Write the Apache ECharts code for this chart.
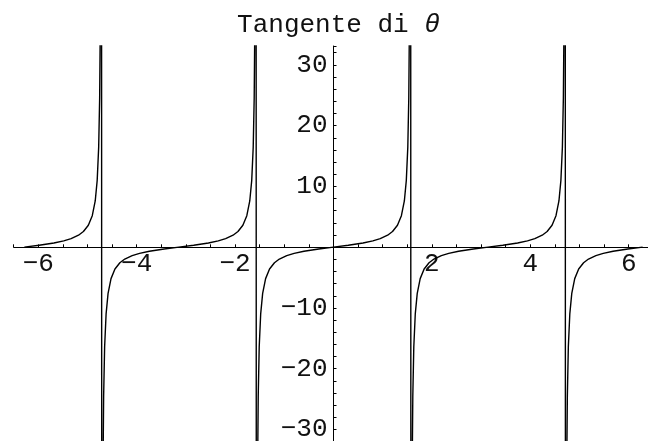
<!DOCTYPE html>
<html>
<head>
<meta charset="utf-8">
<script src="https://cdn.jsdelivr.net/npm/echarts@6/dist/echarts.min.js"></script>
<style>
  html, body { margin: 0; padding: 0; background: #fff; }
  #chart { width: 648px; height: 441px; }
</style>
</head>
<body>
<div id="chart"></div>
<script>
// values, branch by branch (theta, tan theta)
const branch1Theta = [-6.283, -5.983, -5.683, -5.483, -5.333, -5.183, -5.083, -4.983, -4.903, -4.843, -4.803, -4.773, -4.753, -4.738, -4.728, -4.718];
const branch1Tan = [0, 0.31, 0.68, 1.03, 1.40, 1.96, 2.57, 3.60, 5.18, 7.60, 10.99, 16.42, 24.50, 38.76, 63.3, 172.4];

const branch2Theta = [-4.707, -4.697, -4.687, -4.672, -4.652, -4.622, -4.582, -4.522, -4.442, -4.342, -4.242, -4.092, -3.942, -3.742, -3.442, -3.142,
  -2.842, -2.542, -2.342, -2.192, -2.042, -1.942, -1.842, -1.762, -1.702, -1.662, -1.632, -1.612, -1.597, -1.587, -1.577];
const branch2Tan = [-172.4, -63.3, -38.76, -24.50, -16.42, -10.99, -7.60, -5.18, -3.60, -2.57, -1.96, -1.40, -1.03, -0.68, -0.31, 0,
  0.31, 0.68, 1.03, 1.40, 1.96, 2.57, 3.60, 5.18, 7.60, 10.99, 16.42, 24.50, 38.76, 63.3, 172.4];

const branch3Theta = [-1.565, -1.555, -1.545, -1.530, -1.510, -1.480, -1.440, -1.380, -1.300, -1.200, -1.100, -0.950, -0.800, -0.600, -0.300, 0,
  0.300, 0.600, 0.800, 0.950, 1.100, 1.200, 1.300, 1.380, 1.440, 1.480, 1.510, 1.530, 1.545, 1.555, 1.565];
const branch3Tan = [-172.4, -63.3, -38.76, -24.50, -16.42, -10.99, -7.60, -5.18, -3.60, -2.57, -1.96, -1.40, -1.03, -0.68, -0.31, 0,
  0.31, 0.68, 1.03, 1.40, 1.96, 2.57, 3.60, 5.18, 7.60, 10.99, 16.42, 24.50, 38.76, 63.3, 172.4];

const branch4Theta = [1.577, 1.587, 1.597, 1.612, 1.632, 1.662, 1.702, 1.762, 1.842, 1.942, 2.042, 2.192, 2.342, 2.542, 2.842, 3.142,
  3.442, 3.742, 3.942, 4.092, 4.242, 4.342, 4.442, 4.522, 4.582, 4.622, 4.652, 4.672, 4.687, 4.697, 4.707];
const branch4Tan = [-172.4, -63.3, -38.76, -24.50, -16.42, -10.99, -7.60, -5.18, -3.60, -2.57, -1.96, -1.40, -1.03, -0.68, -0.31, 0,
  0.31, 0.68, 1.03, 1.40, 1.96, 2.57, 3.60, 5.18, 7.60, 10.99, 16.42, 24.50, 38.76, 63.3, 172.4];

const branch5Theta = [4.718, 4.728, 4.738, 4.753, 4.773, 4.803, 4.843, 4.903, 4.983, 5.083, 5.183, 5.333, 5.483, 5.683, 5.983, 6.283];
const branch5Tan = [-172.4, -63.3, -38.76, -24.50, -16.42, -10.99, -7.60, -5.18, -3.60, -2.57, -1.96, -1.40, -1.03, -0.68, -0.31, 0];

const titleWords = 'Tangente di ';
const titleSymbol = '\u03B8';

// one polyline, so the jumps draw the vertical lines at the asymptotes
const thetas = [].concat(branch1Theta, branch2Theta, branch3Theta, branch4Theta, branch5Theta);
const tans = [].concat(branch1Tan, branch2Tan, branch3Tan, branch4Tan, branch5Tan);
const points = thetas.map((t, i) => [t, tans[i]]);

const FONT = '"Liberation Mono", "DejaVu Sans Mono", monospace';
const X_MIN = -6.5, X_MAX = 6.5;
const Y_MIN = -32, Y_MAX = 33.1;

// plot box; the axes cross at the origin, so the axis grids share its edges
const PLOT = { left: 13.7, width: 639.6, top: 46, height: 395.6 };
const ORIGIN_X = 333.5, ORIGIN_Y = 247.3;

function tickLabel(v, step) {
  if (Math.abs(v) < 1e-9) return '';
  const r = Math.abs(v % step);
  if (r > 1e-6 && Math.abs(r - step) > 1e-6) return '';
  const n = Math.round(v);
  return n < 0 ? '\u2212' + (-n) : String(n);
}

const tickStyle = { show: true, inside: true, length: 3, lineStyle: { color: '#000', width: 1 } };
const lineStyle = { show: true, onZero: false, lineStyle: { color: '#000', width: 1 } };
const labelStyle = { fontFamily: FONT, fontSize: 26, color: '#111' };

const chart = echarts.init(document.getElementById('chart'), null, { renderer: 'canvas', width: 648, height: 441 });

chart.setOption({
  animation: false,
  backgroundColor: '#fff',
  title: {
    text: '{w|' + titleWords + '}{s|' + titleSymbol + '}',
    left: ORIGIN_X,
    top: 7,
    textAlign: 'center',
    textStyle: {
      fontFamily: FONT, fontSize: 26, fontWeight: 'normal', color: '#111',
      rich: {
        w: { fontFamily: FONT, fontSize: 26, color: '#111' },
        s: { fontFamily: FONT, fontSize: 26, fontStyle: 'italic', color: '#111' }
      }
    }
  },
  grid: [
    // data
    Object.assign({ outerBoundsMode: 'none', containLabel: false }, PLOT),
    // x axis sits on the bottom edge of this one (y = 0)
    { outerBoundsMode: 'none', containLabel: false, left: PLOT.left, width: PLOT.width, top: PLOT.top, height: ORIGIN_Y - PLOT.top },
    // y axis sits on the left edge of this one (x = 0)
    { outerBoundsMode: 'none', containLabel: false, left: ORIGIN_X, width: 300, top: PLOT.top, height: PLOT.height }
  ],
  xAxis: [
    { gridIndex: 0, type: 'value', min: X_MIN, max: X_MAX, show: false },
    {
      gridIndex: 1, type: 'value', position: 'bottom', min: X_MIN, max: X_MAX, interval: 0.5,
      axisLine: lineStyle,
      axisTick: tickStyle,
      axisLabel: Object.assign({ margin: 4, showMinLabel: true, showMaxLabel: true, formatter: v => tickLabel(v, 2) }, labelStyle),
      splitLine: { show: false }
    },
    { gridIndex: 2, type: 'value', min: 0, max: 1, show: false }
  ],
  yAxis: [
    { gridIndex: 0, type: 'value', min: Y_MIN, max: Y_MAX, show: false },
    { gridIndex: 1, type: 'value', min: 0, max: 1, show: false },
    {
      gridIndex: 2, type: 'value', position: 'left', min: Y_MIN, max: Y_MAX, interval: 2,
      axisLine: lineStyle,
      axisTick: tickStyle,
      axisLabel: Object.assign({ margin: 6, showMinLabel: true, showMaxLabel: true, formatter: v => tickLabel(v, 10) }, labelStyle),
      splitLine: { show: false }
    }
  ],
  series: [{
    type: 'line',
    xAxisIndex: 0,
    yAxisIndex: 0,
    data: points,
    showSymbol: false,
    clip: true,
    lineStyle: { color: '#000', width: 1.4 }
  }]
});
</script>
</body>
</html>
